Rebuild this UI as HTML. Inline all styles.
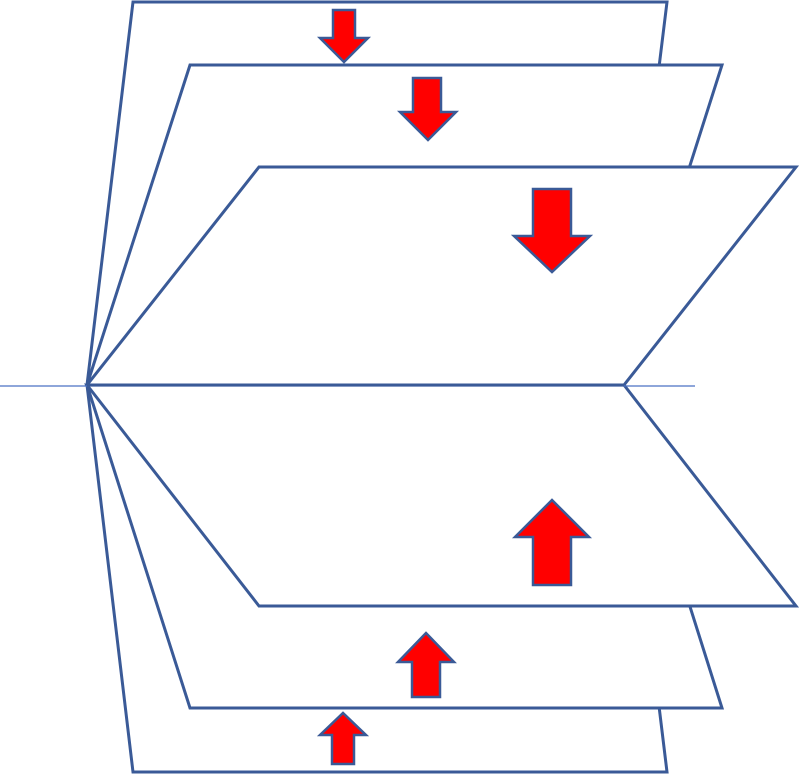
<!DOCTYPE html>
<html><head><style>html,body{margin:0;padding:0;background:#fff}svg{display:block}</style></head>
<body>
<svg width="800" height="774" viewBox="0 0 800 774" xmlns="http://www.w3.org/2000/svg">
<g fill="#fff" stroke="#3a5a97" stroke-width="3" stroke-linejoin="miter">
<polygon points="87,385 133,2 667,2 620,385"/>
<polygon points="87,385 190,65 722,65 620,385"/>
<polygon points="87,385 133,772 667,772 620,385"/>
<polygon points="87,385 190,708 722,708 620,385"/>
<polygon points="87,385 259,167 796,167 624,385"/>
<polygon points="87,385 259,606 796,606 624,385"/>
</g>
<line x1="0" y1="386" x2="695" y2="386" stroke="#4a72c4" stroke-width="1.2"/>
<line x1="87" y1="385" x2="624" y2="385" stroke="#3a5a97" stroke-width="3"/>
<g fill="#ff0000" stroke="#3a5a97" stroke-width="2.5">
<polygon points="333,10 355,10 355,38 368,38 344,62 320,38 333,38"/>
<polygon points="413,78 441,78 441,112 456,112 428,140 400,112 413,112"/>
<polygon points="533,189 571,189 571,236 590,236 552,272 514,236 533,236"/>
<polygon points="533,585 571,585 571,537 589,537 552,500 515,537 533,537"/>
<polygon points="412,697 440,697 440,662 454,662 426,633 398,662 412,662"/>
<polygon points="332,764 354,764 354,735 366,735 343,713 320,735 332,735"/>
</g>
</svg>
</body></html>
